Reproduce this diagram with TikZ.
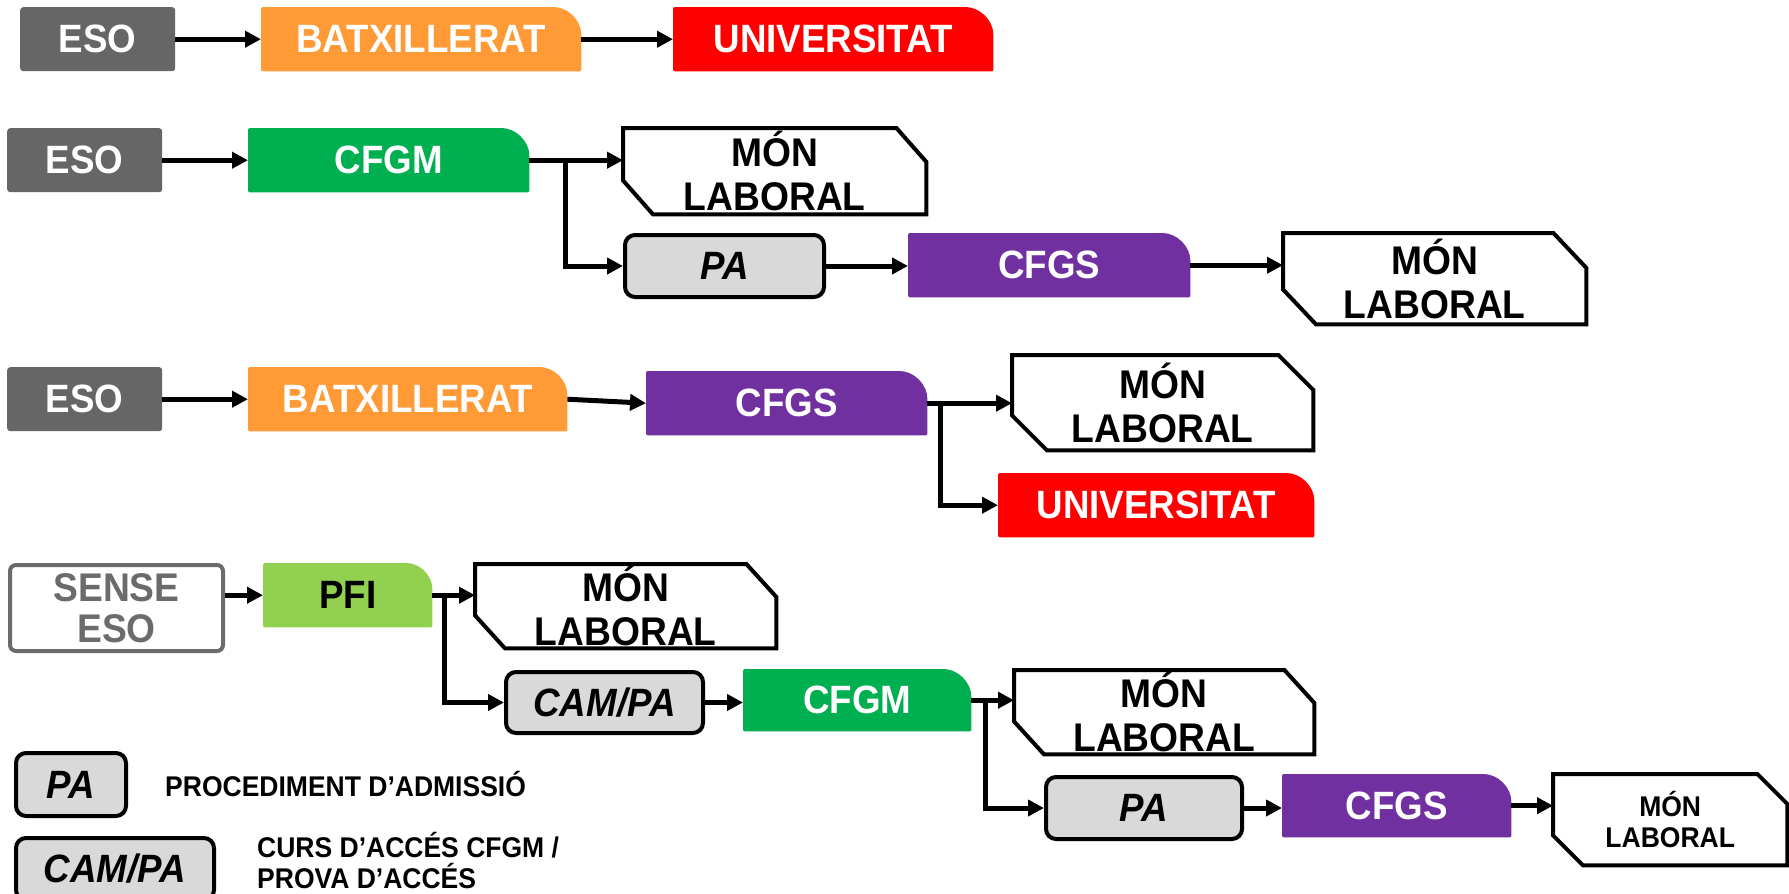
\documentclass[tikz,border=0pt]{standalone}
\usepackage{fontspec}
\setmainfont{Liberation Sans}[FakeStretch=0.93]
\usetikzlibrary{arrows.meta,backgrounds,calc}
\definecolor{esogray}{HTML}{666666}
\definecolor{batxc}{HTML}{FF9A36}
\definecolor{univc}{HTML}{FF0000}
\definecolor{cfgmc}{HTML}{00B050}
\definecolor{cfgsc}{HTML}{7030A0}
\definecolor{pfic}{HTML}{92D050}
\definecolor{pagray}{HTML}{D9D9D9}
\definecolor{sensegray}{HTML}{6B6B6B}
\tikzset{
 box/.style={inner sep=0pt, anchor=north west, align=center, font=\bfseries\fontsize{39.5}{44}\selectfont},
 lab/.style={box, text=white},
 esobox/.style={lab, fill=esogray, rounded corners=3pt},
 monbox/.style={box, text=black, font=\bfseries\fontsize{40}{44}\selectfont},
 smallmon/.style={box, text=black, font=\bfseries\fontsize{28.5}{31}\selectfont},
 pabox/.style={box, text=black, fill=pagray, draw=black, line width=4pt, rounded corners=10pt, font=\bfseries\itshape\fontsize{39.5}{44}\selectfont},
 sensebox/.style={box, text=sensegray, fill=white, draw=sensegray, line width=4pt, rounded corners=6pt, font=\bfseries\fontsize{40}{41}\selectfont},
 arr/.style={line width=5pt, -{Triangle[length=16pt,width=16pt]}},
 legtxt/.style={inner sep=0pt, font=\bfseries\fontsize{28.5}{31}\selectfont, align=left},
}
\newcommand\roundcornerbox[3]{%
 \fill[#2, rounded corners=2pt] let \p1=(#1.north west), \p2=(#1.south east) in
  (\x1,\y2) -- (\x1,\y1) -- (\x2-#3pt,\y1) .. controls (\x2-0.4477*#3pt,\y1) and (\x2,\y1-0.4477*#3pt) .. (\x2,\y1-#3pt) -- (\x2,\y2) -- cycle;}
\newcommand\snipbox[3]{%
 \draw[line width=4pt, fill=white] let \p1=(#1.north west), \p2=(#1.south east) in
  (\x1,\y1) -- (\x2-#2pt,\y1) -- (\x2,\y1-#3pt) -- (\x2,\y2) -- (\x1+#2pt,\y2) -- (\x1,\y2+#3pt) -- cycle;}
\begin{document}
\begin{tikzpicture}[x=1pt,y=-1pt]
\useasboundingbox (0,0) rectangle (1789,894);
% row 1
\node[esobox, minimum width=155pt, minimum height=64pt] (eso1) at (20,7) {ESO};
\node[lab, minimum width=320pt, minimum height=64pt] (batx1) at (261,7) {BATXILLERAT};
\node[lab, minimum width=320pt, minimum height=64pt] (univ1) at (673,7) {UNIVERSITAT};
% row 2
\node[esobox, minimum width=155pt, minimum height=64pt] (eso2) at (7,128) {ESO};
\node[lab, minimum width=281pt, minimum height=64pt] (cfgm2) at (248,128) {CFGM};
\node[monbox, minimum width=303pt, minimum height=86pt] (mon2a) at (623,128) {MÓN\\LABORAL};
\node[pabox, minimum width=199pt, minimum height=62pt] (pa2) at (623,233) {PA};
\node[lab, minimum width=282pt, minimum height=64pt] (cfgs2) at (908,233) {CFGS};
\node[monbox, minimum width=303pt, minimum height=91pt] (mon2b) at (1283,233) {MÓN\\LABORAL};
% row 3
\node[esobox, minimum width=155pt, minimum height=64pt] (eso3) at (7,367) {ESO};
\node[lab, minimum width=319pt, minimum height=64pt] (batx3) at (248,367) {BATXILLERAT};
\node[lab, minimum width=281pt, minimum height=64pt] (cfgs3) at (646,371) {CFGS};
\node[monbox, minimum width=301pt, minimum height=95pt] (mon3) at (1012,355) {MÓN\\LABORAL};
\node[lab, minimum width=316pt, minimum height=64pt] (univ3) at (998,473) {UNIVERSITAT};
% row 4
\node[sensebox, minimum width=213pt, minimum height=86pt] (sense) at (8,563) {SENSE\\ESO};
\node[box, text=black, minimum width=169pt, minimum height=64pt] (pfi) at (263,563) {PFI};
\node[monbox, minimum width=301pt, minimum height=84pt] (mon4a) at (475,564) {MÓN\\LABORAL};
\node[pabox, minimum width=197pt, minimum height=61pt] (campa) at (504,670) {CAM/PA};
\node[lab, minimum width=228pt, minimum height=62pt] (cfgm4) at (743,669) {CFGM};
\node[monbox, minimum width=300pt, minimum height=84pt] (mon4b) at (1014,670) {MÓN\\LABORAL};
\node[pabox, minimum width=196pt, minimum height=62pt] (pa4) at (1044,775) {PA};
\node[lab, minimum width=229pt, minimum height=63pt] (cfgs4) at (1282,774) {CFGS};
\node[smallmon, minimum width=234pt, minimum height=91pt] (mon4c) at (1553,774) {MÓN\\LABORAL};
% legend
\node[pabox, minimum width=110pt, minimum height=63pt] (lpa) at (14,751) {PA};
\node[legtxt, anchor=base west] (lpat) at (165,796) {PROCEDIMENT D’ADMISSIÓ};
\node[pabox, minimum width=198pt, minimum height=62pt] (lcam) at (14,836) {CAM/PA};
\node[legtxt, anchor=west] (lcamt) at (257,861) {CURS D’ACCÉS CFGM /\\PROVA D’ACCÉS};
% shapes
\begin{scope}[on background layer]
 \fill[white] (0,0) rectangle (1789,894);
 \roundcornerbox{batx1}{batxc}{30}
 \roundcornerbox{univ1}{univc}{30}
 \roundcornerbox{cfgm2}{cfgmc}{30}
 \roundcornerbox{cfgs2}{cfgsc}{30}
 \roundcornerbox{batx3}{batxc}{30}
 \roundcornerbox{cfgs3}{cfgsc}{30}
 \roundcornerbox{univ3}{univc}{30}
 \roundcornerbox{pfi}{pfic}{28}
 \roundcornerbox{cfgm4}{cfgmc}{30}
 \roundcornerbox{cfgs4}{cfgsc}{30}
 \snipbox{mon2a}{30}{34}
 \snipbox{mon2b}{33}{35}
 \snipbox{mon3}{35}{35}
 \snipbox{mon4a}{30}{33}
 \snipbox{mon4b}{30}{33}
 \snipbox{mon4c}{30}{30}
\end{scope}
% connectors
\draw[arr] (eso1.east) -- (batx1.west);
\draw[arr] (batx1.east) -- (univ1.west);
\draw[arr] (eso2.east) -- (cfgm2.west);
\draw[arr] (cfgm2.east) -- (cfgm2.east -| mon2a.west);
\coordinate (b2) at ([xshift=36pt]cfgm2.east);
\draw[arr] (b2) |- (pa2.west);
\draw[arr] (pa2.east) -- (pa2.east -| cfgs2.west);
\draw[arr] (cfgs2.east) -- (cfgs2.east -| mon2b.west);
\draw[arr] (eso3.east) -- (batx3.west);
\draw[arr] (batx3.east) -- (cfgs3.west);
\draw[arr] (cfgs3.east) -- (cfgs3.east -| mon3.west);
\coordinate (b3) at ([xshift=13pt]cfgs3.east);
\draw[arr] (b3) |- (univ3.west);
\draw[arr] (pfi.west -| sense.east) -- (pfi.west);
\draw[arr] (pfi.east) -- (pfi.east -| mon4a.west);
\coordinate (b4) at ([xshift=12pt]pfi.east);
\draw[arr] (b4) |- (campa.west);
\draw[arr] (campa.east) -- (campa.east -| cfgm4.west);
\draw[arr] (cfgm4.east) -- (cfgm4.east -| mon4b.west);
\coordinate (b5) at ([xshift=14pt]cfgm4.east);
\draw[arr] (b5) |- (pa4.west);
\draw[arr] (pa4.east) -- (pa4.east -| cfgs4.west);
\draw[arr] (cfgs4.east) -- (cfgs4.east -| mon4c.west);
\end{tikzpicture}
\end{document}
